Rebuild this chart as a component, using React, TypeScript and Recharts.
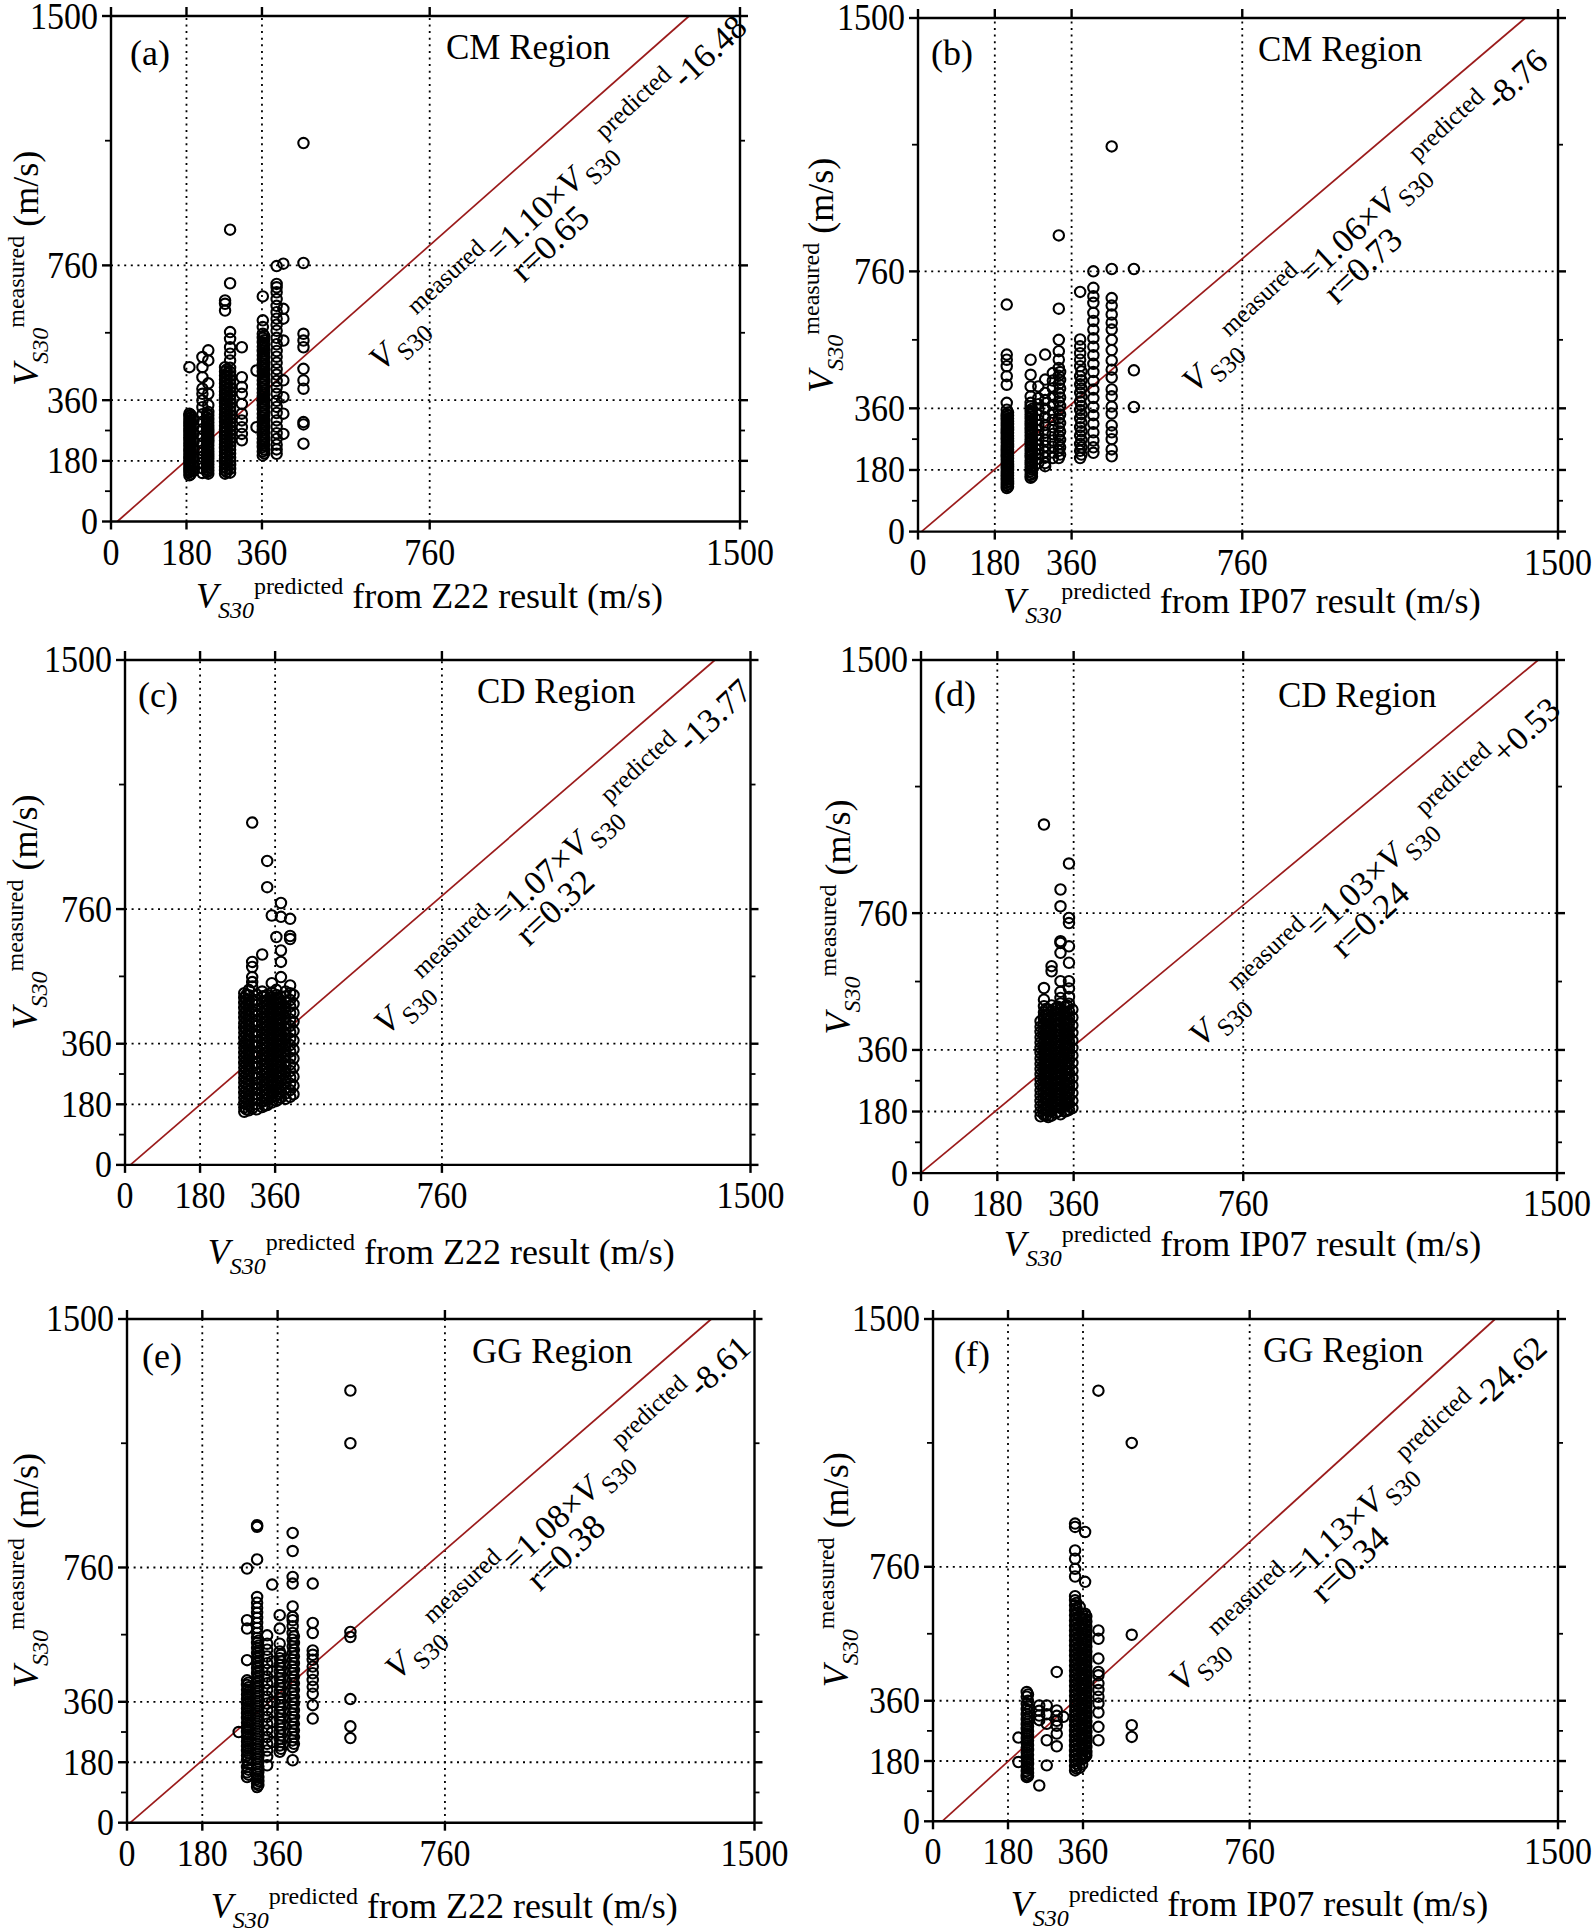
import React from "react"
import { ScatterChart, Scatter, XAxis, YAxis, ReferenceLine } from "recharts"

const FONT = "'Liberation Serif', 'Times New Roman', serif"

// axis ticks (same for every panel)
const majorTicks = [0, 180, 360, 760, 1500]
const yTicks = [0, 90, 180, 270, 360, 560, 760, 1130, 1500]
const gridValues = [180, 360, 760]

// fitted lines, one per panel (a..f)
const slopes = [1.1, 1.06, 1.07, 1.03, 1.08, 1.13]
const intercepts = [-16.48, -8.76, -13.77, 0.53, -8.61, -24.62]
const rValues = [0.65, 0.73, 0.32, 0.24, 0.38, 0.34]

// (a) CM region, Z22 — points grouped by predicted value
const aX = [187, 190, 197, 218, 229, 232, 272, 276, 284, 312, 347, 362, 365, 395, 411, 459]
const aY = [
  [137, 146, 153, 161, 170, 177, 186, 193, 201, 209, 216, 225, 232, 241, 249, 256, 265, 272, 281, 289, 297, 305, 313, 320, 458],
  [141, 149, 157, 165, 173, 181, 189, 197, 205, 213, 221, 229, 237, 245, 253, 261, 268, 277, 285, 293, 301, 309, 316],
  [150, 168, 190, 213, 238, 262, 284, 302],
  [144, 158, 174, 192, 211, 232, 253, 274, 296, 318, 339, 359, 379, 394, 428, 458, 488],
  [147, 155, 164, 173, 183, 192, 202, 211, 221, 231, 240, 250, 260, 269, 279, 289, 299, 309, 320],
  [142, 151, 160, 169, 178, 188, 197, 207, 216, 226, 236, 245, 255, 265, 274, 284, 294, 304, 315, 325, 345, 379, 410, 478, 508],
  [142, 152, 163, 174, 185, 196, 207, 218, 229, 240, 251, 262, 273, 284, 296, 307, 318, 330, 341, 352, 364, 375, 386, 398, 410, 421, 433, 445, 458, 626, 646, 656],
  [147, 157, 168, 179, 190, 201, 212, 223, 234, 245, 256, 267, 278, 290, 301, 312, 324, 335, 346, 358, 369, 380, 392, 404, 415, 427, 439, 451],
  [145, 156, 168, 179, 190, 202, 213, 224, 236, 247, 259, 270, 282, 293, 305, 316, 328, 339, 351, 362, 374, 385, 397, 408, 420, 432, 444, 456, 478, 498, 517, 542, 562, 707, 866],
  [241, 260, 280, 300, 320, 349, 379, 399, 428, 517],
  [280, 448],
  [196, 208, 221, 233, 246, 258, 271, 283, 295, 308, 320, 333, 345, 357, 370, 382, 394, 407, 419, 431, 444, 456, 468, 481, 493, 506, 519, 532, 545, 557, 577, 597, 668],
  [202, 214, 227, 239, 252, 264, 277, 289, 301, 314, 326, 339, 351, 363, 376, 388, 400, 413, 425, 437, 450, 462, 474, 487, 499, 512, 525, 538, 551],
  [201, 214, 228, 245, 262, 281, 300, 322, 340, 358, 379, 398, 417, 436, 452, 471, 489, 506, 526, 545, 566, 584, 602, 621, 640, 660, 680, 695, 705, 758],
  [260, 320, 369, 419, 537, 602, 631, 765],
  [231, 288, 295, 394, 419, 453, 517, 537, 557, 767, 1123],
]

// (b) CM region, IP07
const bX = [208, 211, 264, 267, 282, 298, 316, 330, 333, 380, 383, 411, 454, 506]
const bY = [
  [127, 135, 143, 151, 160, 168, 176, 185, 193, 201, 210, 218, 226, 235, 243, 251, 260, 268, 276, 285, 293, 301, 310, 318, 326, 335, 343, 356, 376, 429, 454, 483, 502, 517, 663],
  [131, 139, 147, 155, 164, 172, 180, 189, 197, 205, 214, 222, 230, 239, 247, 255, 264, 272, 280, 289, 297, 305, 314, 322, 330, 339, 348],
  [157, 166, 176, 187, 197, 207, 218, 228, 238, 249, 259, 269, 280, 290, 300, 311, 321, 331, 342, 352, 366, 376, 395, 424, 458, 502],
  [161, 171, 181, 192, 202, 212, 223, 233, 243, 254, 264, 274, 285, 295, 305, 316, 326, 336, 347, 358],
  [200, 213, 226, 240, 254, 268, 282, 297, 311, 326, 341, 356, 372, 390, 424],
  [191, 200, 216, 233, 250, 268, 289, 311, 334, 359, 384, 405, 444, 517],
  [215, 231, 248, 266, 285, 305, 326, 347, 370, 394, 419, 441, 463],
  [215, 236, 256, 280, 305, 330, 354, 380, 405, 431, 455, 478, 502, 527, 560, 651, 865],
  [225, 246, 268, 292, 317, 342, 367, 392, 418, 443, 466],
  [215, 236, 256, 281, 305, 331, 355, 380, 406, 430, 454, 483, 502, 521, 541, 561, 700],
  [225, 246, 268, 293, 318, 343, 367, 393, 418, 442, 468],
  [230, 246, 266, 290, 315, 340, 364, 390, 415, 440, 466, 490, 515, 540, 565, 590, 615, 639, 668, 687, 712, 760],
  [220, 240, 270, 290, 310, 345, 365, 395, 415, 450, 473, 500, 530, 560, 590, 610, 634, 660, 682, 767, 1125],
  [364, 471, 767],
]

// (c) CD region, Z22
const cX = [286, 291, 297, 305, 316, 329, 335, 341, 352, 363, 368, 374, 385, 396, 404]
const cY = [
  [158, 171, 185, 200, 214, 229, 245, 259, 274, 289, 303, 318, 333, 348, 362, 377, 393, 407, 421, 437, 451, 466, 481, 496, 510],
  [165, 180, 194, 209, 224, 239, 254, 268, 283, 298, 312, 327, 342, 357, 371, 386, 401, 416, 431, 445, 460, 475, 490, 505],
  [162, 177, 192, 206, 221, 236, 251, 266, 280, 295, 311, 325, 340, 355, 370, 384, 399, 414, 429, 444, 459, 474, 489, 504, 520],
  [168, 197, 228, 262, 293, 327, 358, 391, 423, 455, 487, 530, 543, 558, 588, 603, 1017],
  [165, 181, 196, 211, 227, 243, 258, 273, 289, 304, 320, 335, 351, 366, 382, 397, 413, 428, 443, 459, 475, 490, 506],
  [172, 187, 203, 219, 234, 250, 265, 281, 297, 312, 328, 343, 359, 375, 390, 406, 421, 437, 452, 468, 484, 500, 515, 625],
  [176, 192, 207, 223, 238, 254, 270, 285, 300, 316, 331, 347, 362, 378, 393, 409, 424, 440, 456, 471, 487, 502],
  [178, 194, 210, 226, 241, 257, 272, 288, 304, 319, 335, 350, 366, 381, 397, 412, 428, 443, 459, 475, 490, 505, 825, 903],
  [185, 201, 216, 232, 248, 263, 279, 295, 310, 326, 341, 357, 373, 388, 404, 419, 435, 451, 466, 482, 498, 512, 540, 741],
  [190, 206, 222, 238, 253, 269, 285, 301, 316, 332, 348, 363, 379, 395, 410, 426, 442, 457, 473, 489, 505, 520, 677],
  [195, 211, 227, 243, 259, 274, 290, 306, 322, 338, 353, 369, 385, 401, 416, 432, 448, 464, 480, 495],
  [200, 216, 232, 248, 264, 279, 295, 311, 327, 343, 358, 374, 390, 406, 421, 437, 453, 469, 485, 500, 558, 603, 637, 737, 778],
  [196, 212, 228, 244, 260, 276, 292, 308, 324, 340, 356, 372, 388, 404, 420, 436, 452, 468, 484, 500, 515],
  [202, 222, 241, 260, 279, 298, 318, 337, 356, 375, 394, 413, 432, 452, 471, 490, 510, 533, 671, 680, 731],
  [210, 235, 262, 289, 316, 343, 370, 398, 425, 452, 478, 505],
]

// (d) CD region, IP07
const dX = [282, 290, 295, 300, 308, 318, 323, 329, 339, 344, 349, 357]
const dY = [
  [166, 180, 196, 211, 227, 242, 258, 273, 289, 304, 320, 335, 351, 366, 382, 397, 413, 428, 444],
  [170, 186, 203, 219, 236, 252, 269, 285, 302, 318, 335, 351, 368, 384, 401, 417, 434, 450, 459, 470, 488, 507, 541, 1019],
  [168, 184, 200, 217, 233, 250, 266, 283, 299, 316, 332, 349, 365, 382, 398, 415, 431, 448, 464, 480],
  [164, 181, 197, 214, 230, 247, 263, 280, 296, 313, 329, 346, 362, 379, 395, 412, 428, 445, 461, 478],
  [168, 185, 202, 219, 236, 253, 270, 287, 304, 321, 338, 355, 372, 389, 406, 423, 440, 457, 474, 490, 590, 605],
  [176, 193, 210, 227, 244, 261, 278, 295, 312, 329, 346, 363, 380, 397, 414, 431, 448, 465, 482],
  [180, 197, 214, 231, 248, 265, 282, 299, 316, 333, 350, 367, 384, 401, 418, 435, 452, 469, 486],
  [172, 190, 208, 226, 244, 262, 280, 298, 316, 334, 352, 370, 388, 406, 424, 442, 460, 478, 496, 512, 530, 561, 644, 673, 678, 780, 829],
  [180, 197, 214, 231, 248, 265, 282, 299, 316, 333, 350, 367, 384, 401, 418, 435, 452, 469, 486],
  [182, 200, 218, 236, 254, 272, 290, 308, 326, 344, 362, 380, 398, 416, 434, 452, 470, 490],
  [185, 203, 221, 239, 257, 275, 293, 311, 329, 347, 365, 383, 401, 419, 437, 455, 473, 495, 515, 540, 561, 615, 663, 731, 746, 905],
  [190, 212, 234, 256, 278, 300, 322, 344, 366, 388, 410, 432, 455, 478],
]

// (e) GG region, Z22
const eX = [267, 287, 290, 311, 314, 335, 347, 365, 368, 396, 399, 444, 534]
const eY = [
  [270],
  [136, 150, 166, 186, 200, 214, 228, 242, 256, 270, 284, 298, 312, 326, 340, 354, 368, 382, 396, 410, 424, 484, 578, 603, 757],
  [143, 158, 176, 193, 207, 221, 235, 249, 263, 277, 291, 305, 319, 333, 347, 361, 375, 389, 403, 417],
  [106, 117, 130, 145, 160, 175, 190, 205, 220, 235, 250, 265, 280, 295, 310, 325, 340, 355, 370, 385, 400, 415, 430, 445, 460, 475, 490, 505, 520, 535, 550, 565, 580, 595, 610, 625, 640, 655, 672, 784, 881, 886],
  [112, 124, 137, 152, 167, 182, 197, 212, 227, 242, 257, 272, 287, 302, 317, 332, 347, 362, 377, 392, 407, 422, 437, 452, 467, 482, 497, 512, 527, 542],
  [171, 196, 215, 235, 255, 275, 295, 315, 335, 355, 375, 395, 415, 435, 455, 475, 495, 515, 533, 558],
  [240, 270, 300, 330, 360, 390, 420, 450, 480, 709],
  [211, 230, 250, 270, 290, 310, 330, 350, 370, 390, 410, 430, 450, 470, 490, 510, 533, 578, 618],
  [220, 240, 260, 280, 300, 320, 340, 360, 380, 400, 420, 440, 460, 480, 500],
  [186, 225, 245, 265, 285, 305, 325, 345, 365, 385, 405, 425, 445, 465, 485, 505, 525, 545, 565, 585, 603, 613, 644, 712, 732, 809, 863],
  [235, 255, 275, 295, 315, 335, 355, 375, 395, 415, 435, 455, 475, 495, 515, 535, 555],
  [310, 350, 384, 405, 425, 445, 465, 485, 500, 513, 565, 595, 712],
  [252, 287, 368, 553, 568, 1130, 1287],
]

// (f) GG region, IP07
const fX = [205, 225, 228, 255, 273, 297, 313, 341, 344, 352, 358, 365, 368, 397, 477]
const fY = [
  [177, 250],
  [132, 138, 150, 164, 178, 192, 206, 220, 234, 248, 262, 276, 290, 305, 320, 335, 351, 372, 386],
  [135, 144, 157, 171, 185, 199, 213, 227, 241, 255, 269, 283, 298, 312, 328, 343, 360, 379],
  [107, 302, 316, 330, 346],
  [167, 242, 291, 320, 346],
  [224, 262, 285, 300, 315, 331, 446],
  [312],
  [152, 165, 180, 195, 210, 225, 240, 255, 270, 285, 300, 315, 330, 345, 360, 375, 390, 405, 420, 435, 450, 465, 480, 495, 510, 525, 540, 555, 570, 585, 600, 615, 630, 645, 660, 672, 731, 754, 784, 809, 879, 889],
  [158, 172, 187, 202, 217, 232, 247, 262, 277, 292, 307, 322, 337, 352, 367, 382, 397, 412, 427, 442, 457, 472, 487, 502, 517, 532, 547, 562, 577, 592, 607, 622, 637, 652],
  [160, 190, 220, 250, 280, 310, 340, 370, 400, 430, 460, 490, 520, 550, 580, 610, 640],
  [170, 185, 200, 215, 230, 245, 260, 275, 290, 305, 320, 335, 350, 365, 380, 395, 410, 425, 440, 455, 470, 485, 500, 515, 530, 545, 560, 575, 590, 605, 620],
  [192, 200, 215, 230, 245, 260, 275, 290, 305, 320, 335, 350, 365, 380, 395, 410, 425, 440, 455, 470, 485, 500, 515, 530, 545, 560, 575, 590, 605, 620, 715, 864],
  [197, 207, 222, 237, 252, 267, 282, 297, 312, 327, 342, 357, 372, 387, 402, 417, 432, 447, 462, 477, 492, 507, 522, 537, 552, 567, 582, 597, 612],
  [242, 282, 325, 352, 372, 392, 412, 436, 446, 486, 545, 570, 1286],
  [252, 287, 557, 1130],
]

const toPoints = (xs: number[], ys: number[][]) =>
  xs.flatMap((x, i) => ys[i].map((y) => ({ x, y })))

// layout of each panel on the page (plot box in px) and its texts
const panels = [
  { x0: 111, y0: 15.5, x1: 740, y1: 521, letter: "(a)", region: "CM Region", model: "Z22", letterPos: [130, 65], regionPos: [446, 59], yTitleX: 38, xTitleY: 608, ann: [382, 372], pts: toPoints(aX, aY) },
  { x0: 918, y0: 18.4, x1: 1558, y1: 532, letter: "(b)", region: "CM Region", model: "IP07", letterPos: [931, 65], regionPos: [1258, 61], yTitleX: 833, xTitleY: 613, ann: [1195, 394], pts: toPoints(bX, bY) },
  { x0: 124.5, y0: 659.6, x1: 750, y1: 1164.5, letter: "(c)", region: "CD Region", model: "Z22", letterPos: [138, 707], regionPos: [477, 703], yTitleX: 37, xTitleY: 1264, ann: [387, 1036], pts: toPoints(cX, cY) },
  { x0: 920.5, y0: 660.4, x1: 1556.5, y1: 1173.5, letter: "(d)", region: "CD Region", model: "IP07", letterPos: [934, 706], regionPos: [1278, 707], yTitleX: 850, xTitleY: 1256, ann: [1202, 1048], pts: toPoints(dX, dY) },
  { x0: 126.5, y0: 1318.7, x1: 754, y1: 1822.4, letter: "(e)", region: "GG Region", model: "Z22", letterPos: [142, 1368], regionPos: [472, 1363], yTitleX: 38, xTitleY: 1918, ann: [398, 1681], pts: toPoints(eX, eY) },
  { x0: 933, y0: 1318.7, x1: 1558, y1: 1821, letter: "(f)", region: "GG Region", model: "IP07", letterPos: [954, 1366], regionPos: [1263, 1362], yTitleX: 848, xTitleY: 1916, ann: [1182, 1693], pts: toPoints(fX, fY) },
]

const AXIS_W = 2.4
const LINE_RED = "#9b1b1b"

const Ring = (props: any) => {
  const { cx, cy } = props
  if (cx == null || cy == null) return null
  return <circle cx={cx} cy={cy} r={5.2} fill="none" stroke="#000" strokeWidth={2.1} />
}

// tick digits in the figure are a bit taller than plain Times
const TickText = ({ x, y, anchor, value }: { x: number; y: number; anchor: string; value: number }) => (
  <text transform={`translate(${x},${y}) scale(1,1.1)`} textAnchor={anchor} fontSize={34} fontFamily={FONT} fill="#000">
    {value}
  </text>
)

const BottomTick = (props: any) => {
  const { x, y, payload } = props
  return (
    <g>
      <line x1={x} x2={x} y1={y} y2={y + 8} stroke="#000" strokeWidth={AXIS_W} />
      <TickText x={x} y={y + 43} anchor="middle" value={payload.value} />
    </g>
  )
}

const TopTick = (props: any) => {
  const { x, y } = props
  return <line x1={x} x2={x} y1={y} y2={y - 9} stroke="#000" strokeWidth={AXIS_W} />
}

const LeftTick = (props: any) => {
  const { x, y, payload } = props
  const major = majorTicks.includes(payload.value)
  return (
    <g>
      <line x1={x - (major ? 9 : 6)} x2={x} y1={y} y2={y} stroke="#000" strokeWidth={major ? AXIS_W : 1.8} />
      {major && <TickText x={x - 13} y={y + 12.5} anchor="end" value={payload.value} />}
    </g>
  )
}

const RightTick = (props: any) => {
  const { x, y, payload } = props
  const major = majorTicks.includes(payload.value)
  return <line x1={x} x2={x + (major ? 8 : 5)} y1={y} y2={y} stroke="#000" strokeWidth={major ? AXIS_W : 1.8} />
}

function Panel({ p, i }: { p: (typeof panels)[number]; i: number }) {
  const L = 120, R = 40, T = 24, B = 110
  const w = p.x1 - p.x0 + L + R
  const h = p.y1 - p.y0 + T + B
  const m = slopes[i]
  const b = intercepts[i]
  const start = b < 0 ? { x: -b / m, y: 0 } : { x: 0, y: b }
  const end = { x: (1500 - b) / m, y: 1500 }
  const axisLine = { stroke: "#000", strokeWidth: AXIS_W }
  return (
    <div style={{ position: "absolute", left: p.x0 - L, top: p.y0 - T }}>
      <ScatterChart width={w} height={h} margin={{ left: 0, right: 0, top: 0, bottom: 0 }}>
        <XAxis xAxisId="b" type="number" dataKey="x" domain={[0, 1500]} ticks={majorTicks} interval={0}
          height={B} tickSize={0} tickMargin={0} tickLine={false} tick={<BottomTick />} axisLine={axisLine} allowDataOverflow />
        <XAxis xAxisId="t" orientation="top" type="number" dataKey="x" domain={[0, 1500]} ticks={majorTicks} interval={0}
          height={T} tickSize={0} tickMargin={0} tickLine={false} tick={<TopTick />} axisLine={axisLine} allowDataOverflow />
        <YAxis yAxisId="l" type="number" dataKey="y" domain={[0, 1500]} ticks={yTicks} interval={0}
          width={L} tickSize={0} tickMargin={0} tickLine={false} tick={<LeftTick />} axisLine={axisLine} allowDataOverflow />
        <YAxis yAxisId="r" orientation="right" type="number" dataKey="y" domain={[0, 1500]} ticks={yTicks} interval={0}
          width={R} tickSize={0} tickMargin={0} tickLine={false} tick={<RightTick />} axisLine={axisLine} allowDataOverflow />
        {gridValues.map((v) => (
          <ReferenceLine key={"gx" + v} xAxisId="b" yAxisId="l" x={v} stroke="#000" strokeWidth={1.8} strokeDasharray="2 4.6" />
        ))}
        {gridValues.map((v) => (
          <ReferenceLine key={"gy" + v} xAxisId="b" yAxisId="l" y={v} stroke="#000" strokeWidth={1.8} strokeDasharray="2 4.6" />
        ))}
        <ReferenceLine xAxisId="b" yAxisId="l" segment={[start, end]} stroke={LINE_RED} strokeWidth={1.7} />
        <Scatter xAxisId="b" yAxisId="l" data={p.pts} shape={Ring} isAnimationActive={false} />
      </ScatterChart>
    </div>
  )
}

function PanelText({ p, i }: { p: (typeof panels)[number]; i: number }) {
  const cx = (p.x0 + p.x1) / 2 + 4
  const cy = (p.y0 + p.y1) / 2
  const b = intercepts[i]
  const bText = (b < 0 ? "-" : "+") + Math.abs(b).toFixed(2)
  return (
    <g fontFamily={FONT} fill="#000" style={{ whiteSpace: "pre" }}>
      <text x={p.letterPos[0]} y={p.letterPos[1]} fontSize={36}>{p.letter}</text>
      <text x={p.regionPos[0]} y={p.regionPos[1]} fontSize={35}>{p.region}</text>
      {/* x title */}
      <text x={cx} y={p.xTitleY} textAnchor="middle" fontSize={36}>
        <tspan fontStyle="italic">V</tspan>
        <tspan fontStyle="italic" fontSize={24} dy={10}>S30</tspan>
        <tspan fontSize={24} dy={-24}>predicted</tspan>
        <tspan dy={14}>{` from ${p.model} result (m/s)`}</tspan>
      </text>
      {/* y title */}
      <text transform={`translate(${p.yTitleX},${cy}) rotate(-90)`} textAnchor="middle" fontSize={36}>
        <tspan fontStyle="italic">V</tspan>
        <tspan fontStyle="italic" fontSize={24} dy={10}>S30</tspan>
        <tspan fontSize={24} dy={-24}>measured</tspan>
        <tspan dy={14}> (m/s)</tspan>
      </text>
      {/* fitted equation */}
      <g transform={`translate(${p.ann[0]},${p.ann[1]}) rotate(-43)`}>
        <text x={0} y={0} fontSize={34}>
          <tspan fontStyle="italic">V</tspan>
          <tspan fontSize={25} dx={4} dy={9}>S30</tspan>
          <tspan fontSize={25} dy={-27}>measured</tspan>
          <tspan dy={18}>{`=${slopes[i].toFixed(2)}×`}</tspan>
          <tspan fontStyle="italic">V</tspan>
          <tspan fontSize={25} dx={4} dy={9}>S30</tspan>
          <tspan fontSize={25} dy={-27}>predicted</tspan>
          <tspan dy={18}>{bText}</tspan>
        </text>
        <text x={164} y={32} fontSize={35}>{`r=${rValues[i].toFixed(2)}`}</text>
      </g>
    </g>
  )
}

export default function App() {
  return (
    <div style={{ position: "absolute", left: 0, top: 0, width: 1594, height: 1932, background: "#fff" }}>
      {panels.map((p, i) => (
        <Panel key={i} p={p} i={i} />
      ))}
      <svg width={1594} height={1932} style={{ position: "absolute", left: 0, top: 0, pointerEvents: "none" }}>
        {panels.map((p, i) => (
          <PanelText key={i} p={p} i={i} />
        ))}
      </svg>
    </div>
  )
}
